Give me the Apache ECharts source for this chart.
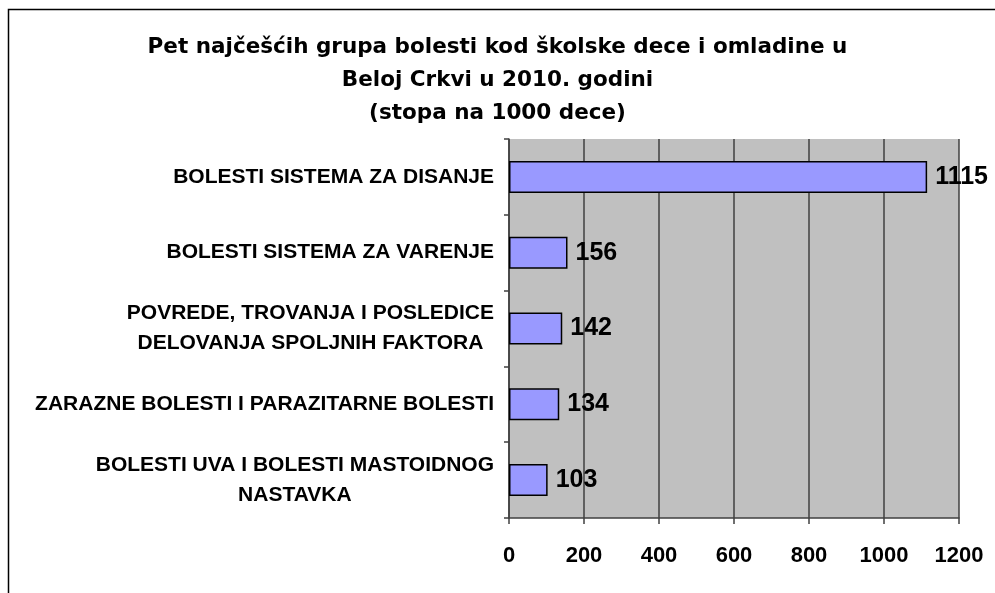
<!DOCTYPE html>
<html>
<head>
<meta charset="utf-8">
<script src="https://cdn.jsdelivr.net/npm/echarts@6/dist/echarts.min.js"></script>
<style>
  html, body { margin: 0; padding: 0; background: #fff; }
  #chart { width: 995px; height: 593px; }
</style>
</head>
<body>
<div id="chart"></div>
<script>
// kategorije (odozgo nadole)
var categories = [
  'BOLESTI SISTEMA ZA DISANJE',
  'BOLESTI SISTEMA ZA VARENJE',
  'POVREDE, TROVANJA I POSLEDICE\nDELOVANJA SPOLJNIH FAKTORA',
  'ZARAZNE BOLESTI I PARAZITARNE BOLESTI',
  'BOLESTI UVA I BOLESTI MASTOIDNOG\nNASTAVKA'
]
// stopa na 1000 dece
var rates = [1115, 156, 142, 134, 103]
var xTicks = [0, 200, 400, 600, 800, 1000, 1200]

var titleText = 'Pet najčešćih grupa bolesti kod školske dece i omladine u\nBeloj Crkvi u 2010. godini\n(stopa na 1000 dece)'
var font = 'Arial, "Liberation Sans", sans-serif'

var chart = echarts.init(document.getElementById('chart'))

var option = {
  backgroundColor: '#fff',
  animation: false,
  title: {
    text: titleText,
    left: 'center',
    top: 26,
    textStyle: {
      fontFamily: '"DejaVu Sans", sans-serif',
      fontSize: 21.5,
      fontWeight: 'bold',
      color: '#000',
      lineHeight: 33
    }
  },
  // okvir oko cele slike
  graphic: [{
    type: 'rect',
    shape: { x: 8.5, y: 9.5, width: 1100, height: 700 },
    style: { fill: null, stroke: '#000', lineWidth: 1.5 },
    z: 100
  }],
  grid: {
    left: 509,
    right: 36,
    top: 139,
    bottom: 75,
    show: true,
    backgroundColor: '#C0C0C0',
    borderWidth: 0
  },
  xAxis: {
    type: 'value',
    min: xTicks[0],
    max: xTicks[xTicks.length - 1],
    interval: 200,
    axisLine: { show: true, lineStyle: { color: '#404040', width: 1.5 } },
    axisTick: { show: true, length: 6, lineStyle: { color: '#404040', width: 1.5 } },
    splitLine: { show: true, lineStyle: { color: '#404040', width: 1.5 } },
    axisLabel: {
      margin: 27,
      formatter: function (v) { return String(v) },
      fontFamily: font,
      fontSize: 22,
      fontWeight: 'bold',
      color: '#000'
    }
  },
  yAxis: {
    type: 'category',
    inverse: true,
    data: categories,
    axisLine: { show: true, lineStyle: { color: '#404040', width: 1.5 } },
    axisTick: { show: true, length: 5, lineStyle: { color: '#404040', width: 1.5 } },
    axisLabel: {
      margin: 15,
      formatter: function (v) {
        return v.split('\n').map(function (l) { return '{c|' + l + '}' }).join('\n')
      },
      rich: {
        c: {
          align: 'center',
          fontFamily: font,
          fontSize: 21,
          fontWeight: 'bold',
          color: '#000',
          lineHeight: 30
        }
      }
    }
  },
  series: [{
    type: 'bar',
    data: rates,
    barWidth: 32,
    itemStyle: {
      color: '#9999FF',
      borderColor: '#000',
      borderWidth: 1.5
    },
    label: {
      show: true,
      position: 'right',
      distance: 8,
      fontFamily: font,
      fontSize: 25,
      fontWeight: 'bold',
      color: '#000'
    }
  }]
}

chart.setOption(option)
</script>
</body>
</html>
